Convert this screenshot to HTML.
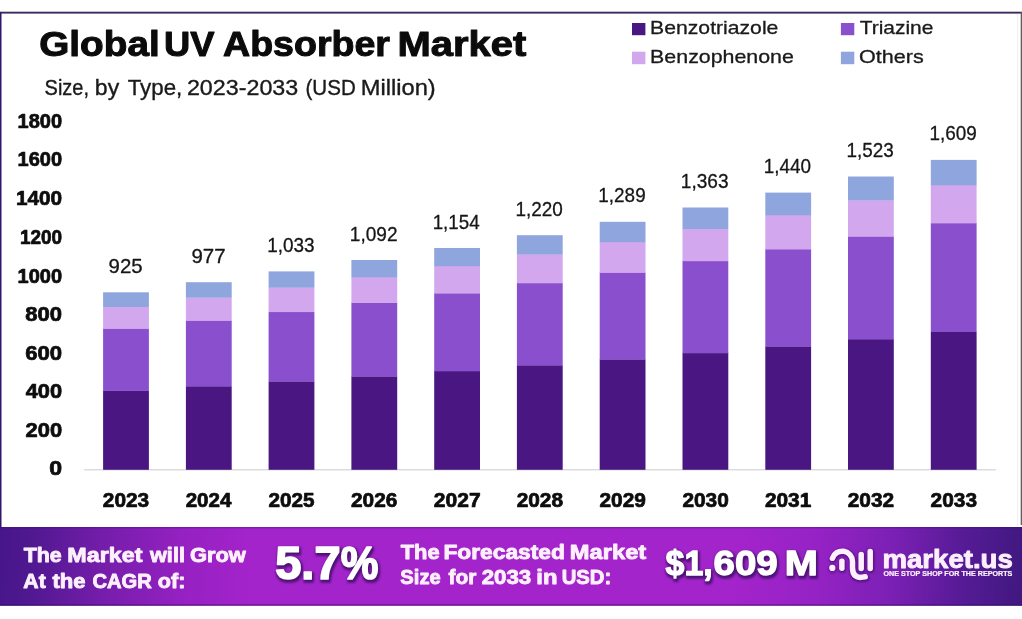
<!DOCTYPE html>
<html lang="en">
<head>
<meta charset="utf-8">
<title>Global UV Absorber Market</title>
<style>
html,body{margin:0;padding:0;background:#fff;}
body{width:1022px;height:619px;overflow:hidden;font-family:"Liberation Sans",Arial,Helvetica,sans-serif;}
svg{display:block;position:absolute;left:0;top:0;}
text{font-family:"Liberation Sans",Arial,Helvetica,sans-serif;}
</style>
</head>
<body>
<svg width="1022" height="619" viewBox="0 0 1022 619">
<defs>
<linearGradient id="bg" gradientUnits="userSpaceOnUse" x1="0" y1="540" x2="1022" y2="593">
<stop offset="0" stop-color="#47168a"/>
<stop offset="0.03" stop-color="#4f1890"/>
<stop offset="0.10" stop-color="#741daa"/>
<stop offset="0.18" stop-color="#9621c2"/>
<stop offset="0.25" stop-color="#a424cb"/>
<stop offset="0.72" stop-color="#a324ca"/>
<stop offset="0.80" stop-color="#9522c4"/>
<stop offset="0.87" stop-color="#7c20b5"/>
<stop offset="0.94" stop-color="#561b96"/>
<stop offset="1" stop-color="#401880"/>
</linearGradient>
<filter id="sh" x="-10%" y="-30%" width="120%" height="160%" color-interpolation-filters="sRGB">
<feMorphology in="SourceAlpha" operator="dilate" radius="1.1" result="d"/>
<feGaussianBlur in="d" stdDeviation="1.3" result="b"/>
<feOffset in="b" dx="1.2" dy="1.9" result="o"/>
<feFlood flood-color="#3d0f66" flood-opacity="0.85" result="c"/>
<feComposite in="c" in2="o" operator="in" result="s"/>
<feMerge><feMergeNode in="s"/><feMergeNode in="SourceGraphic"/></feMerge>
</filter>
<filter id="sh2" x="-20%" y="-30%" width="140%" height="160%"><feGaussianBlur stdDeviation="0.9"/></filter>
</defs>
<rect x="0" y="0" width="1022" height="619" fill="#ffffff"/>
<!-- frame -->
<rect x="0" y="11.7" width="1022" height="1.9" fill="#3f2a5e"/>
<rect x="0" y="12" width="1.5" height="516" fill="#35146e"/>
<rect x="1020.7" y="12" width="1.3" height="513" fill="#5f5c63"/>
<rect x="1017.1" y="14" width="1.1" height="512" fill="#f0f0f0"/>

<!-- headings -->
<text y="56.4" font-size="34.8" font-weight="bold" fill="#0b0b0b" stroke="#0b0b0b" stroke-width="1.0" stroke-linejoin="round"><tspan x="39.27" textLength="120.42" lengthAdjust="spacingAndGlyphs">Global</tspan> <tspan x="164.07" textLength="50.44" lengthAdjust="spacingAndGlyphs">UV</tspan> <tspan x="223.07" textLength="166.87" lengthAdjust="spacingAndGlyphs">Absorber</tspan> <tspan x="397.4" textLength="128.83" lengthAdjust="spacingAndGlyphs">Market</tspan></text>
<text y="94.9" font-size="21.6" fill="#1a1a1a" stroke="#1a1a1a" stroke-width="0.35" stroke-linejoin="round"><tspan x="44.6" textLength="44.45" lengthAdjust="spacingAndGlyphs">Size,</tspan> <tspan x="94.87" textLength="24.35" lengthAdjust="spacingAndGlyphs">by</tspan> <tspan x="127.73" textLength="54.56" lengthAdjust="spacingAndGlyphs">Type,</tspan> <tspan x="186.93" textLength="111.3" lengthAdjust="spacingAndGlyphs">2023-2033</tspan> <tspan x="305.47" textLength="50.34" lengthAdjust="spacingAndGlyphs">(USD</tspan> <tspan x="360.8" textLength="74.94" lengthAdjust="spacingAndGlyphs">Million)</tspan></text>
<!-- legend -->
<rect x="632" y="23" width="13.4" height="12.2" fill="#4a1782"/>
<rect x="632" y="51.7" width="13.4" height="12.5" fill="#d2a7ee"/>
<rect x="840.9" y="23" width="13.4" height="12.2" fill="#8a4fcc"/>
<rect x="840.9" y="51.7" width="13.4" height="12.5" fill="#8fa5dd"/>
<g>
<text x="650.13" y="33.9" font-size="18.2" fill="#1a1a1a" stroke="#1a1a1a" stroke-width="0.3" stroke-linejoin="round" textLength="128.25" lengthAdjust="spacingAndGlyphs">Benzotriazole</text>
<text x="650.13" y="62.8" font-size="18.2" fill="#1a1a1a" stroke="#1a1a1a" stroke-width="0.3" stroke-linejoin="round" textLength="143.71" lengthAdjust="spacingAndGlyphs">Benzophenone</text>
<text x="859.73" y="33.9" font-size="18.2" fill="#1a1a1a" stroke="#1a1a1a" stroke-width="0.3" stroke-linejoin="round" textLength="73.62" lengthAdjust="spacingAndGlyphs">Triazine</text>
<text x="859.07" y="62.8" font-size="18.2" fill="#1a1a1a" stroke="#1a1a1a" stroke-width="0.3" stroke-linejoin="round" textLength="64.71" lengthAdjust="spacingAndGlyphs">Others</text>
</g>
<!-- y axis -->
<g>
<text x="49.33" y="475.3" font-size="19.5" font-weight="bold" fill="#0d0d0d" stroke="#0d0d0d" stroke-width="0.7" stroke-linejoin="round" textLength="12.84" lengthAdjust="spacingAndGlyphs">0</text>
<text x="25.53" y="437.0" font-size="19.5" font-weight="bold" fill="#0d0d0d" stroke="#0d0d0d" stroke-width="0.7" stroke-linejoin="round" textLength="36.56" lengthAdjust="spacingAndGlyphs">200</text>
<text x="25.67" y="398.0" font-size="19.5" font-weight="bold" fill="#0d0d0d" stroke="#0d0d0d" stroke-width="0.7" stroke-linejoin="round" textLength="36.4" lengthAdjust="spacingAndGlyphs">400</text>
<text x="25.2" y="359.7" font-size="19.5" font-weight="bold" fill="#0d0d0d" stroke="#0d0d0d" stroke-width="0.7" stroke-linejoin="round" textLength="36.9" lengthAdjust="spacingAndGlyphs">600</text>
<text x="25.33" y="320.7" font-size="19.5" font-weight="bold" fill="#0d0d0d" stroke="#0d0d0d" stroke-width="0.7" stroke-linejoin="round" textLength="36.75" lengthAdjust="spacingAndGlyphs">800</text>
<text x="17.6" y="282.7" font-size="19.5" font-weight="bold" fill="#0d0d0d" stroke="#0d0d0d" stroke-width="0.7" stroke-linejoin="round" textLength="44.51" lengthAdjust="spacingAndGlyphs">1000</text>
<text x="19.93" y="243.7" font-size="19.5" font-weight="bold" fill="#0d0d0d" stroke="#0d0d0d" stroke-width="0.7" stroke-linejoin="round" textLength="42.18" lengthAdjust="spacingAndGlyphs">1200</text>
<text x="15.93" y="205.4" font-size="19.5" font-weight="bold" fill="#0d0d0d" stroke="#0d0d0d" stroke-width="0.7" stroke-linejoin="round" textLength="46.18" lengthAdjust="spacingAndGlyphs">1400</text>
<text x="17.6" y="166.4" font-size="19.5" font-weight="bold" fill="#0d0d0d" stroke="#0d0d0d" stroke-width="0.7" stroke-linejoin="round" textLength="44.51" lengthAdjust="spacingAndGlyphs">1600</text>
<text x="17.6" y="127.8" font-size="19.5" font-weight="bold" fill="#0d0d0d" stroke="#0d0d0d" stroke-width="0.7" stroke-linejoin="round" textLength="44.51" lengthAdjust="spacingAndGlyphs">1800</text>
</g>
<rect x="84" y="469.2" width="912" height="1.2" fill="#d4d4d4"/>
<!-- bars -->
<g>
<rect x="103.1" y="390.6" width="45.8" height="79.2" fill="#4a1782"/>
<rect x="103.1" y="328.4" width="45.8" height="62.5" fill="#8a4fcc"/>
<rect x="103.1" y="306.7" width="45.8" height="22.1" fill="#d2a7ee"/>
<rect x="103.1" y="292.3" width="45.8" height="14.7" fill="#8fa5dd"/>
<text x="108.53" y="272.8" font-size="20.2" fill="#161616" stroke="#161616" stroke-width="0.3" stroke-linejoin="round" textLength="34.13" lengthAdjust="spacingAndGlyphs">925</text>
<text x="102.8" y="506.7" font-size="19.5" font-weight="bold" fill="#0d0d0d" stroke="#0d0d0d" stroke-width="0.7" stroke-linejoin="round" textLength="46.42" lengthAdjust="spacingAndGlyphs">2023</text>
</g>
<g>
<rect x="185.9" y="386.2" width="45.8" height="83.6" fill="#4a1782"/>
<rect x="185.9" y="320.4" width="45.8" height="66.0" fill="#8a4fcc"/>
<rect x="185.9" y="297.4" width="45.8" height="23.3" fill="#d2a7ee"/>
<rect x="185.9" y="282.2" width="45.8" height="15.5" fill="#8fa5dd"/>
<text x="191.4" y="262.7" font-size="20.2" fill="#161616" stroke="#161616" stroke-width="0.3" stroke-linejoin="round" textLength="34.14" lengthAdjust="spacingAndGlyphs">977</text>
<text x="185.67" y="506.7" font-size="19.5" font-weight="bold" fill="#0d0d0d" stroke="#0d0d0d" stroke-width="0.7" stroke-linejoin="round" textLength="45.73" lengthAdjust="spacingAndGlyphs">2024</text>
</g>
<g>
<rect x="268.6" y="381.3" width="45.8" height="88.5" fill="#4a1782"/>
<rect x="268.6" y="311.8" width="45.8" height="69.8" fill="#8a4fcc"/>
<rect x="268.6" y="287.4" width="45.8" height="24.7" fill="#d2a7ee"/>
<rect x="268.6" y="271.4" width="45.8" height="16.3" fill="#8fa5dd"/>
<text x="267.27" y="251.9" font-size="20.2" fill="#161616" stroke="#161616" stroke-width="0.3" stroke-linejoin="round" textLength="47.36" lengthAdjust="spacingAndGlyphs">1,033</text>
<text x="268.47" y="506.7" font-size="19.5" font-weight="bold" fill="#0d0d0d" stroke="#0d0d0d" stroke-width="0.7" stroke-linejoin="round" textLength="46.07" lengthAdjust="spacingAndGlyphs">2025</text>
</g>
<g>
<rect x="351.4" y="376.3" width="45.8" height="93.5" fill="#4a1782"/>
<rect x="351.4" y="302.7" width="45.8" height="73.8" fill="#8a4fcc"/>
<rect x="351.4" y="276.9" width="45.8" height="26.1" fill="#d2a7ee"/>
<rect x="351.4" y="260.0" width="45.8" height="17.3" fill="#8fa5dd"/>
<text x="349.8" y="240.5" font-size="20.2" fill="#161616" stroke="#161616" stroke-width="0.3" stroke-linejoin="round" textLength="47.71" lengthAdjust="spacingAndGlyphs">1,092</text>
<text x="351.0" y="506.7" font-size="19.5" font-weight="bold" fill="#0d0d0d" stroke="#0d0d0d" stroke-width="0.7" stroke-linejoin="round" textLength="46.42" lengthAdjust="spacingAndGlyphs">2026</text>
</g>
<g>
<rect x="434.2" y="370.9" width="45.8" height="98.9" fill="#4a1782"/>
<rect x="434.2" y="293.2" width="45.8" height="78.1" fill="#8a4fcc"/>
<rect x="434.2" y="265.9" width="45.8" height="27.5" fill="#d2a7ee"/>
<rect x="434.2" y="248.0" width="45.8" height="18.2" fill="#8fa5dd"/>
<text x="432.67" y="228.5" font-size="20.2" fill="#161616" stroke="#161616" stroke-width="0.3" stroke-linejoin="round" textLength="47.0" lengthAdjust="spacingAndGlyphs">1,154</text>
<text x="433.87" y="506.7" font-size="19.5" font-weight="bold" fill="#0d0d0d" stroke="#0d0d0d" stroke-width="0.7" stroke-linejoin="round" textLength="46.76" lengthAdjust="spacingAndGlyphs">2027</text>
</g>
<g>
<rect x="516.9" y="365.2" width="45.8" height="104.6" fill="#4a1782"/>
<rect x="516.9" y="283.0" width="45.8" height="82.5" fill="#8a4fcc"/>
<rect x="516.9" y="254.2" width="45.8" height="29.1" fill="#d2a7ee"/>
<rect x="516.9" y="235.2" width="45.8" height="19.3" fill="#8fa5dd"/>
<text x="515.47" y="215.7" font-size="20.2" fill="#161616" stroke="#161616" stroke-width="0.3" stroke-linejoin="round" textLength="47.34" lengthAdjust="spacingAndGlyphs">1,220</text>
<text x="516.67" y="506.7" font-size="19.5" font-weight="bold" fill="#0d0d0d" stroke="#0d0d0d" stroke-width="0.7" stroke-linejoin="round" textLength="46.41" lengthAdjust="spacingAndGlyphs">2028</text>
</g>
<g>
<rect x="599.7" y="359.3" width="45.8" height="110.5" fill="#4a1782"/>
<rect x="599.7" y="272.4" width="45.8" height="87.2" fill="#8a4fcc"/>
<rect x="599.7" y="241.9" width="45.8" height="30.8" fill="#d2a7ee"/>
<rect x="599.7" y="221.8" width="45.8" height="20.4" fill="#8fa5dd"/>
<text x="598.33" y="202.3" font-size="20.2" fill="#161616" stroke="#161616" stroke-width="0.3" stroke-linejoin="round" textLength="47.34" lengthAdjust="spacingAndGlyphs">1,289</text>
<text x="599.53" y="506.7" font-size="19.5" font-weight="bold" fill="#0d0d0d" stroke="#0d0d0d" stroke-width="0.7" stroke-linejoin="round" textLength="46.42" lengthAdjust="spacingAndGlyphs">2029</text>
</g>
<g>
<rect x="682.5" y="352.9" width="45.8" height="116.9" fill="#4a1782"/>
<rect x="682.5" y="261.0" width="45.8" height="92.3" fill="#8a4fcc"/>
<rect x="682.5" y="228.7" width="45.8" height="32.5" fill="#d2a7ee"/>
<rect x="682.5" y="207.5" width="45.8" height="21.5" fill="#8fa5dd"/>
<text x="680.87" y="188.0" font-size="20.2" fill="#161616" stroke="#161616" stroke-width="0.3" stroke-linejoin="round" textLength="47.71" lengthAdjust="spacingAndGlyphs">1,363</text>
<text x="682.4" y="506.7" font-size="19.5" font-weight="bold" fill="#0d0d0d" stroke="#0d0d0d" stroke-width="0.7" stroke-linejoin="round" textLength="46.42" lengthAdjust="spacingAndGlyphs">2030</text>
</g>
<g>
<rect x="765.3" y="346.3" width="45.8" height="123.5" fill="#4a1782"/>
<rect x="765.3" y="249.1" width="45.8" height="97.5" fill="#8a4fcc"/>
<rect x="765.3" y="215.0" width="45.8" height="34.4" fill="#d2a7ee"/>
<rect x="765.3" y="192.6" width="45.8" height="22.7" fill="#8fa5dd"/>
<text x="763.73" y="173.1" font-size="20.2" fill="#161616" stroke="#161616" stroke-width="0.3" stroke-linejoin="round" textLength="47.34" lengthAdjust="spacingAndGlyphs">1,440</text>
<text x="764.93" y="506.7" font-size="19.5" font-weight="bold" fill="#0d0d0d" stroke="#0d0d0d" stroke-width="0.7" stroke-linejoin="round" textLength="46.41" lengthAdjust="spacingAndGlyphs">2031</text>
</g>
<g>
<rect x="848.0" y="339.1" width="45.8" height="130.7" fill="#4a1782"/>
<rect x="848.0" y="236.3" width="45.8" height="103.1" fill="#8a4fcc"/>
<rect x="848.0" y="200.3" width="45.8" height="36.3" fill="#d2a7ee"/>
<rect x="848.0" y="176.5" width="45.8" height="24.0" fill="#8fa5dd"/>
<text x="846.53" y="157.0" font-size="20.2" fill="#161616" stroke="#161616" stroke-width="0.3" stroke-linejoin="round" textLength="47.34" lengthAdjust="spacingAndGlyphs">1,523</text>
<text x="847.73" y="506.7" font-size="19.5" font-weight="bold" fill="#0d0d0d" stroke="#0d0d0d" stroke-width="0.7" stroke-linejoin="round" textLength="46.41" lengthAdjust="spacingAndGlyphs">2032</text>
</g>
<g>
<rect x="930.8" y="331.7" width="45.8" height="138.1" fill="#4a1782"/>
<rect x="930.8" y="223.0" width="45.8" height="109.0" fill="#8a4fcc"/>
<rect x="930.8" y="185.0" width="45.8" height="38.4" fill="#d2a7ee"/>
<rect x="930.8" y="159.9" width="45.8" height="25.4" fill="#8fa5dd"/>
<text x="929.4" y="140.4" font-size="20.2" fill="#161616" stroke="#161616" stroke-width="0.3" stroke-linejoin="round" textLength="47.34" lengthAdjust="spacingAndGlyphs">1,609</text>
<text x="930.6" y="506.7" font-size="19.5" font-weight="bold" fill="#0d0d0d" stroke="#0d0d0d" stroke-width="0.7" stroke-linejoin="round" textLength="46.42" lengthAdjust="spacingAndGlyphs">2033</text>
</g>
<!-- banner -->
<rect x="0" y="527" width="1022" height="78.8" fill="url(#bg)"/>
<rect x="0" y="527" width="1022" height="1.4" fill="#3a0d66" opacity="0.35"/>
<rect x="0" y="604" width="1022" height="1.8" fill="#3a0d66" opacity="0.4"/>
<g>
<text y="562.1" font-size="20.9" font-weight="bold" fill="#fdf0fd" stroke="#fdf0fd" stroke-width="0.9" stroke-linejoin="round"><tspan x="23.67" textLength="38.13" lengthAdjust="spacingAndGlyphs">The</tspan> <tspan x="67.27" textLength="75.14" lengthAdjust="spacingAndGlyphs">Market</tspan> <tspan x="150.0" textLength="34.94" lengthAdjust="spacingAndGlyphs">will</tspan> <tspan x="190.0" textLength="55.87" lengthAdjust="spacingAndGlyphs">Grow</tspan></text>
<text y="587.6" font-size="20.9" font-weight="bold" fill="#fdf0fd" stroke="#fdf0fd" stroke-width="0.9" stroke-linejoin="round"><tspan x="23.33" textLength="22.4" lengthAdjust="spacingAndGlyphs">At</tspan> <tspan x="52.53" textLength="33.13" lengthAdjust="spacingAndGlyphs">the</tspan> <tspan x="92.47" textLength="59.34" lengthAdjust="spacingAndGlyphs">CAGR</tspan> <tspan x="157.87" textLength="27.55" lengthAdjust="spacingAndGlyphs">of:</tspan></text>
</g>
<g>
<text y="559.1" font-size="20.9" font-weight="bold" fill="#fdf0fd" stroke="#fdf0fd" stroke-width="0.9" stroke-linejoin="round"><tspan x="400.67" textLength="38.94" lengthAdjust="spacingAndGlyphs">The</tspan> <tspan x="443.4" textLength="121.57" lengthAdjust="spacingAndGlyphs">Forecasted</tspan> <tspan x="569.87" textLength="76.34" lengthAdjust="spacingAndGlyphs">Market</tspan></text>
<text y="583.8" font-size="20.9" font-weight="bold" fill="#fdf0fd" stroke="#fdf0fd" stroke-width="0.9" stroke-linejoin="round"><tspan x="400.33" textLength="40.4" lengthAdjust="spacingAndGlyphs">Size</tspan> <tspan x="448.6" textLength="27.8" lengthAdjust="spacingAndGlyphs">for</tspan> <tspan x="481.67" textLength="49.48" lengthAdjust="spacingAndGlyphs">2033</tspan> <tspan x="536.33" textLength="21.15" lengthAdjust="spacingAndGlyphs">in</tspan> <tspan x="561.73" textLength="49.46" lengthAdjust="spacingAndGlyphs">USD:</tspan></text>
</g>
<g filter="url(#sh)">
<text y="578.8" font-size="45.3" font-weight="bold" fill="#ffffff" stroke="#ffffff" stroke-width="1.7" stroke-linejoin="round"><tspan x="275.27" textLength="65.25" lengthAdjust="spacingAndGlyphs">5.7</tspan><tspan x="340.67" textLength="37.68" lengthAdjust="spacingAndGlyphs">%</tspan></text>
<text y="575.3" font-size="35.6" font-weight="bold" fill="#ffffff" stroke="#ffffff" stroke-width="1.3" stroke-linejoin="round"><tspan x="665.6" textLength="47.19" lengthAdjust="spacingAndGlyphs">$1,</tspan><tspan x="713.53" textLength="64.17" lengthAdjust="spacingAndGlyphs">609</tspan> <tspan x="784.73" textLength="33.1" lengthAdjust="spacingAndGlyphs">M</tspan></text>
</g>
<!-- logo -->
<g fill="none" stroke="#3a0f63" stroke-width="6.8" stroke-linecap="round" stroke-linejoin="round" transform="translate(0.5,1.0)" filter="url(#sh2)" opacity="0.8">
<path d="M832.4 558.3 A10.3 10.3 0 0 1 852.5 561.4 L852.5 567.5 Q852.5 577.4 860.8 577.4 L865.2 576.8"/>
<path d="M841.9 561.3 L841.9 568.2"/>
<path d="M861.2 554.5 L861.2 568.4"/>
<path d="M870.2 551.5 L870.2 568.4"/>
<circle cx="832.3" cy="567.9" r="0.8"/>
</g>
<g fill="none" stroke="#fdeffd" stroke-width="5.5" stroke-linecap="round" stroke-linejoin="round">
<path d="M832.4 558.3 A10.3 10.3 0 0 1 852.5 561.4 L852.5 567.5 Q852.5 577.4 860.8 577.4 L865.2 576.8"/>
<path d="M841.9 561.3 L841.9 568.2"/>
<path d="M861.2 554.5 L861.2 568.4"/>
<path d="M870.2 551.5 L870.2 568.4"/>
</g>
<g fill="#fdeffd"><circle cx="832.3" cy="567.9" r="3.1"/></g>
<g>
<text x="882.4" y="568.0" font-size="26" font-weight="bold" fill="#fdf0fd" stroke="#fdf0fd" stroke-width="0.9" stroke-linejoin="round" textLength="130.43" lengthAdjust="spacingAndGlyphs">market.us</text>
<text x="883.53" y="575.8" font-size="6.4" font-weight="bold" fill="#fdf0fd" stroke="#fdf0fd" stroke-width="0.2" stroke-linejoin="round" textLength="128.8" lengthAdjust="spacingAndGlyphs">ONE STOP SHOP FOR THE REPORTS</text>
</g>
</svg>
</body>
</html>
